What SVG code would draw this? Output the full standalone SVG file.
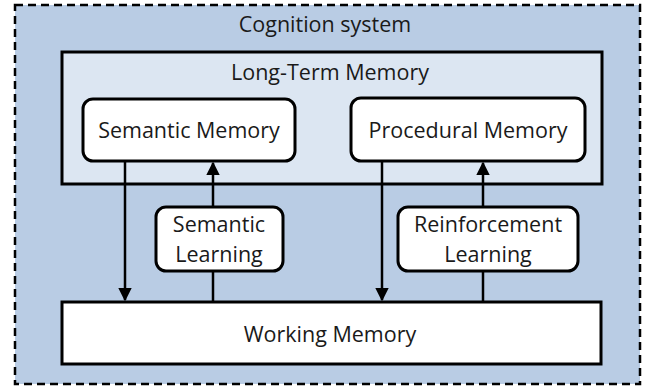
<svg xmlns="http://www.w3.org/2000/svg" width="649" height="387" viewBox="0 0 649 387">
<defs>
<style>
text{font-family:"Open Sans","Liberation Sans",sans-serif;font-size:21.5px;fill:#1a1a1a;text-anchor:middle}
.box{fill:#fff;stroke:#000;stroke-width:3}
.ln{stroke:#000;stroke-width:2.5;fill:none}
</style>
<marker id="ah" viewBox="0 0 10 10" refX="9" refY="5" markerWidth="5.5" markerHeight="5.5" markerUnits="strokeWidth" orient="auto"><path d="M0,0L10,5L0,10z" fill="#000"/></marker>
</defs>
<g id="cognition">
<rect x="15" y="5" width="625" height="379" fill="#b9cce4" stroke="#000" stroke-width="2.5" stroke-dasharray="8,5"/>
<text x="325" y="32">Cognition system</text>
</g>
<g id="ltm">
<rect x="62" y="52" width="540" height="132" fill="#dce6f2" stroke="#000" stroke-width="3"/>
<text x="330" y="80">Long-Term Memory</text>
</g>
<g id="connectors">
<line class="ln" x1="125" y1="161" x2="125" y2="300" marker-end="url(#ah)"/>
<line class="ln" x1="213" y1="302" x2="213" y2="163" marker-end="url(#ah)"/>
<line class="ln" x1="382" y1="161" x2="382" y2="300" marker-end="url(#ah)"/>
<line class="ln" x1="483" y1="302" x2="483" y2="163" marker-end="url(#ah)"/>
</g>
<g id="semantic-memory">
<rect class="box" x="83" y="99" width="212" height="62" rx="10"/>
<text x="189" y="138">Semantic Memory</text>
</g>
<g id="procedural-memory">
<rect class="box" x="351" y="98" width="234" height="63" rx="10"/>
<text x="468" y="138">Procedural Memory</text>
</g>
<g id="semantic-learning">
<rect class="box" x="156" y="207" width="127" height="64" rx="10"/>
<text x="219" y="232">Semantic</text>
<text x="219" y="262">Learning</text>
</g>
<g id="reinforcement-learning">
<rect class="box" x="398" y="207" width="180" height="64" rx="10"/>
<text x="488" y="232">Reinforcement</text>
<text x="488" y="262">Learning</text>
</g>
<g id="working-memory">
<rect class="box" x="62" y="302" width="539" height="62"/>
<text x="330" y="342">Working Memory</text>
</g>
</svg>
